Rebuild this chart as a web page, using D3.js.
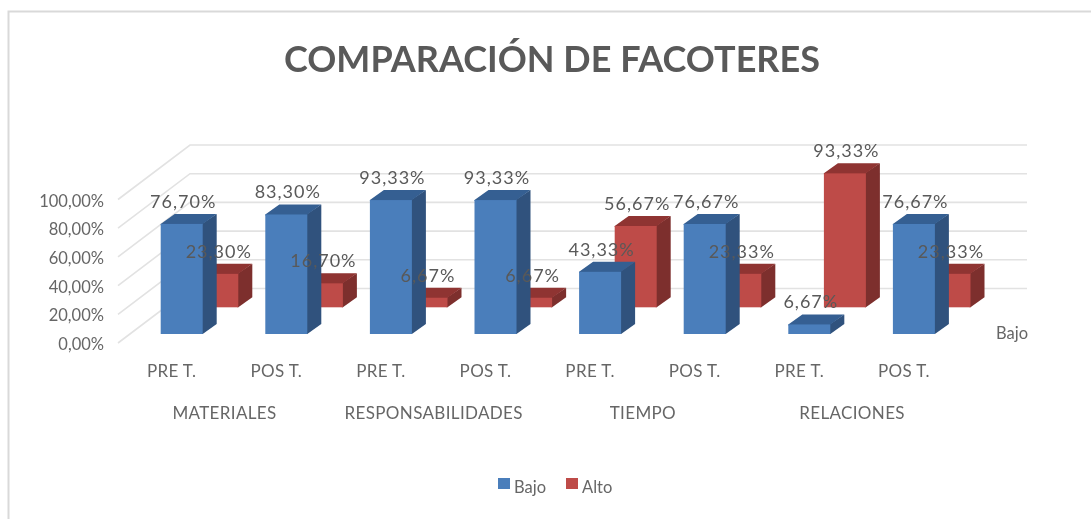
<!DOCTYPE html>
<html><head><meta charset="utf-8">
<script src="https://cdnjs.cloudflare.com/ajax/libs/d3/7.8.5/d3.min.js"></script>
<style>
html,body{margin:0;padding:0;background:#fff;overflow:hidden}
svg{display:block;filter:blur(0.7px)}
text{font-family:Lato,"Open Sans",sans-serif;fill:#595959}
.small{fill:#666}
</style></head><body>
<svg id="c" width="1091" height="519"></svg>
<script>
const title = "COMPARACIÓN DE FACOTERES";
const bars = ["PRE T.","POS T.","PRE T.","POS T.","PRE T.","POS T.","PRE T.","POS T."];
const groups = ["MATERIALES","RESPONSABILIDADES","TIEMPO","RELACIONES"];
const bajo = [76.70,83.30,93.33,93.33,43.33,76.67,6.67,76.67];
const alto = [23.30,16.70,6.67,6.67,56.67,23.33,93.33,23.33];
const bajoLabels = ["76,70%","83,30%","93,33%","93,33%","43,33%","76,67%","6,67%","76,67%"];
const altoLabels = ["23,30%","16,70%","6,67%","6,67%","56,67%","23,33%","93,33%","23,33%"];
const yTicks = [0,20,40,60,80,100];
const yTickLabels = ["0,00%","20,00%","40,00%","60,00%","80,00%","100,00%"];

const svg = d3.select("#c").attr("overflow","visible");
const blue = {front:"#4a7ebb",side:"#30527d",top:"#355f92"};
const red  = {front:"#be4b48",side:"#7d2f2d",top:"#8f3432"};

const y = d3.scaleLinear().domain([0,100]).range([343,199.5]);
const h = d3.scaleLinear().domain([0,100]).range([0,143.5]);
const x = d3.scaleBand().domain(d3.range(bars.length)).range([128.4,965.2]);
const barW = 42, depthX = 14, depthY = 10;
const wallX = 72, wallY = -54.5, wallEnd = 1027;
const blueBase = 334, redBase = 307.3, redShift = 35.6;
const barLeft = i => x(i) + (x.bandwidth()-barW)/2 + 1;

// frame: only the top and left edges are in view
svg.append("path").attr("d","M8.5,530V11.5H1100")
  .attr("fill","none").attr("stroke","#d9d9d9").attr("stroke-width",2);

// title
svg.append("text").attr("x",552).attr("y",72).attr("text-anchor","middle")
  .attr("font-size",36).attr("font-weight",700).text(title);

// grid: side wall and back wall
const grid = svg.append("g").attr("fill","none").attr("stroke","#e2e2e2").attr("stroke-width",1.6);
yTicks.forEach(t=>{
  grid.append("path").attr("d",d3.line()([[118,y(t)],[118+wallX,y(t)+wallY],[wallEnd,y(t)+wallY]]));
});
// y tick labels
svg.append("g").selectAll("text").data(yTicks).join("text").attr("class","small")
  .attr("x",104).attr("y",t=>y(t)+7).attr("text-anchor","end").attr("font-size",16.5)
  .text((t,i)=>yTickLabels[i]);

function drawBars(vals,col,base,shift){
  const g = svg.append("g");
  vals.forEach((v,i)=>{
    const l = barLeft(i)+shift, r = l+barW, b = base, t = base-h(v);
    const poly = pts => pts.map(p=>p.join(",")).join(" ");
    g.append("polygon").attr("fill",col.side)
      .attr("points",poly([[r-1,t],[r-1+depthX+1,t-depthY],[r+depthX,b-depthY],[r,b],[r-1,b]]));
    g.append("polygon").attr("fill",col.top)
      .attr("points",poly([[l,t+1],[l,t],[l+depthX,t-depthY],[r+depthX,t-depthY],[r,t],[r,t+1]]));
    g.append("rect").attr("x",l).attr("y",t).attr("width",barW).attr("height",b-t).attr("fill",col.front);
  });
}
drawBars(alto,red,redBase,redShift);
drawBars(bajo,blue,blueBase,0);

function drawLabels(vals,labs,base,shift){
  svg.append("g").selectAll("text").data(vals).join("text")
    .attr("x",(v,i)=>barLeft(i)+shift+barW/2+1.5)
    .attr("y",v=>base-h(v)-16)
    .attr("text-anchor","middle").attr("font-size",18).attr("letter-spacing",1)
    .text((v,i)=>labs[i]);
}
drawLabels(alto,altoLabels,redBase,redShift);
drawLabels(bajo,bajoLabels,blueBase,0);

// series-axis label
svg.append("text").attr("class","small").attr("x",996).attr("y",339).attr("font-size",16.5).text("Bajo");

// category labels
svg.append("g").selectAll("text").data(bars).join("text").attr("class","small")
  .attr("x",(d,i)=>x(i)+x.bandwidth()/2-9).attr("y",377)
  .attr("text-anchor","middle").attr("font-size",17).attr("letter-spacing",0.35).text(d=>d);
svg.append("g").selectAll("text").data(groups).join("text").attr("class","small")
  .attr("x",(d,i)=>x(i*2)+x.bandwidth()-8.5).attr("y",419)
  .attr("text-anchor","middle").attr("font-size",17).attr("letter-spacing",0.35).text(d=>d);

// legend
const legend = [["Bajo",blue.front,498],["Alto",red.front,566]];
legend.forEach(([n,c,lx])=>{
  svg.append("rect").attr("x",lx).attr("y",478).attr("width",12).attr("height",11).attr("fill",c);
  svg.append("text").attr("class","small").attr("x",lx+16).attr("y",493).attr("font-size",16.5).text(n);
});
</script></body></html>
